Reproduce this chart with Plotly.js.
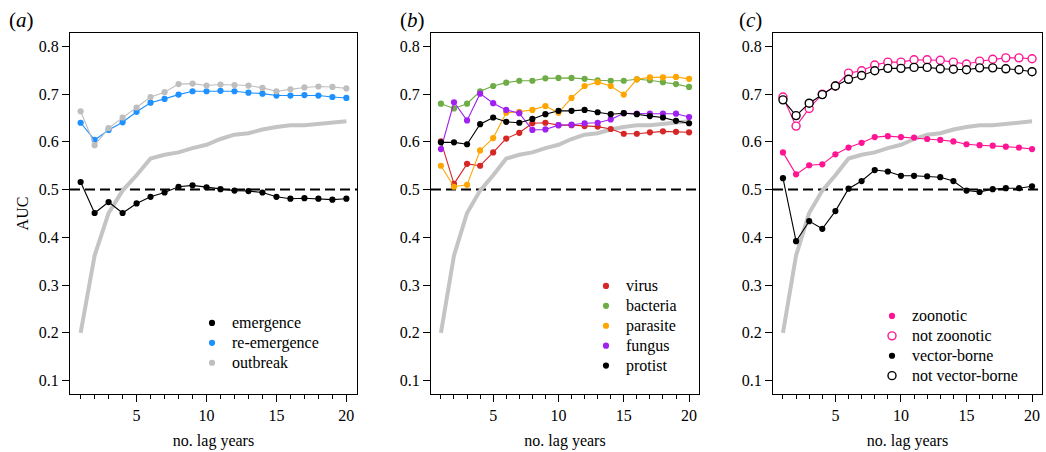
<!DOCTYPE html>
<html>
<head>
<meta charset="utf-8">
<script src="https://cdn.plot.ly/plotly-3.0.1.min.js"></script>
<style>html,body{margin:0;padding:0;background:#fff;}#chart{width:1046px;height:452px;}</style>
</head>
<body>
<div id="chart"></div>
<script>
// ---- data ----
const LAG = [1,2,3,4,5,6,7,8,9,10,11,12,13,14,15,16,17,18,19,20];
const BASELINE = [0.200,0.362,0.451,0.498,0.530,0.565,0.573,0.578,0.587,0.594,0.606,0.615,0.618,0.626,0.631,0.635,0.635,0.638,0.639,0.643];

const EMERGENCE   = [0.516,0.451,0.474,0.451,0.471,0.485,0.494,0.506,0.509,0.505,0.501,0.498,0.497,0.494,0.485,0.481,0.482,0.481,0.479,0.481];
const REEMERGENCE = [0.640,0.604,0.625,0.641,0.663,0.682,0.690,0.699,0.706,0.706,0.707,0.706,0.703,0.701,0.697,0.697,0.698,0.697,0.694,0.692];
const OUTBREAK    = [0.664,0.593,0.629,0.651,0.672,0.694,0.704,0.721,0.722,0.718,0.720,0.719,0.718,0.713,0.706,0.710,0.714,0.716,0.715,0.712];

const VIRUS    = [0.601,0.512,0.554,0.550,0.578,0.607,0.619,0.639,0.640,0.635,0.635,0.633,0.632,0.627,0.617,0.617,0.620,0.622,0.621,0.620];
const BACTERIA = [0.680,0.670,0.680,0.706,0.717,0.724,0.728,0.728,0.733,0.734,0.734,0.732,0.729,0.728,0.728,0.731,0.729,0.725,0.721,0.715];
const PARASITE = [0.550,0.506,0.510,0.582,0.608,0.661,0.663,0.667,0.675,0.661,0.692,0.717,0.725,0.717,0.699,0.731,0.735,0.735,0.736,0.732];
const FUNGUS   = [0.585,0.683,0.645,0.701,0.681,0.667,0.660,0.625,0.626,0.635,0.636,0.639,0.640,0.647,0.660,0.659,0.659,0.659,0.659,0.652];
const PROTIST  = [0.599,0.599,0.595,0.637,0.651,0.642,0.640,0.648,0.658,0.665,0.665,0.667,0.662,0.658,0.660,0.658,0.654,0.651,0.644,0.639];

const ZOONOTIC     = [0.578,0.532,0.551,0.553,0.574,0.588,0.598,0.610,0.612,0.610,0.609,0.606,0.604,0.601,0.595,0.593,0.592,0.590,0.588,0.585];
const NOT_ZOONOTIC = [0.694,0.633,0.670,0.700,0.717,0.744,0.749,0.761,0.767,0.767,0.772,0.772,0.771,0.767,0.763,0.769,0.773,0.776,0.776,0.774];
const VECTOR       = [0.524,0.392,0.434,0.418,0.455,0.502,0.518,0.541,0.538,0.529,0.529,0.528,0.526,0.518,0.498,0.495,0.501,0.503,0.503,0.507];
const NOT_VECTOR   = [0.688,0.655,0.681,0.699,0.717,0.731,0.739,0.749,0.754,0.754,0.756,0.756,0.753,0.752,0.751,0.755,0.755,0.753,0.751,0.747];

const PANEL_LABELS = ['(<i>a</i>)', '(<i>b</i>)', '(<i>c</i>)'];
const X_TITLE = 'no. lag years';
const Y_TITLE = 'AUC';

// ---- styling / layout ----
const W = 1046, H = 452;
const FONT = '"Liberation Serif", "Times New Roman", Times, serif';
const px = v => v / W;
const py = v => 1 - v / H;

const panels = [
  { ax: '',  dom: [70, 357],  legend: 'legend',  series: [
      { name: 'emergence',    y: EMERGENCE,   color: '#000000' },
      { name: 're-emergence', y: REEMERGENCE, color: '#1E90FF' },
      { name: 'outbreak',     y: OUTBREAK,    color: '#BEBEBE' } ] },
  { ax: '2', dom: [431, 699], legend: 'legend2', series: [
      { name: 'virus',    y: VIRUS,    color: '#D62728' },
      { name: 'bacteria', y: BACTERIA, color: '#6FAC46' },
      { name: 'parasite', y: PARASITE, color: '#FFA500' },
      { name: 'fungus',   y: FUNGUS,   color: '#A020F0' },
      { name: 'protist',  y: PROTIST,  color: '#000000' } ] },
  { ax: '3', dom: [773, 1042], legend: 'legend3', series: [
      { name: 'zoonotic',         y: ZOONOTIC,     color: '#FF1493', open: false },
      { name: 'not zoonotic',     y: NOT_ZOONOTIC, color: '#FF1493', open: true },
      { name: 'vector-borne',     y: VECTOR,       color: '#000000', open: false },
      { name: 'not vector-borne', y: NOT_VECTOR,   color: '#000000', open: true } ] }
];

const traces = [];
const layout = {
  width: W, height: H,
  margin: { l: 0, r: 0, t: 0, b: 0 },
  paper_bgcolor: '#ffffff', plot_bgcolor: '#ffffff',
  font: { family: FONT, size: 16, color: '#000000' },
  showlegend: true,
  shapes: [], annotations: []
};

const legendPos = [ { x: 192, y: 308 }, { x: 586, y: 271 }, { x: 872, y: 301 } ];
const labelPos = [7, 398, 737];

panels.forEach((p, i) => {
  const xa = 'x' + p.ax, ya = 'y' + p.ax;
  // baseline thick grey line
  traces.push({ x: LAG, y: BASELINE, xaxis: xa, yaxis: ya, mode: 'lines',
    line: { color: '#C4C4C4', width: 4 }, showlegend: false, hoverinfo: 'skip' });
  p.series.forEach(s => {
    traces.push({ x: LAG, y: s.y, xaxis: xa, yaxis: ya, mode: 'lines',
      line: { color: s.color, width: 1.1 }, showlegend: false, hoverinfo: 'skip' });
    traces.push({ x: LAG, y: s.y, xaxis: xa, yaxis: ya, mode: 'markers',
      name: '<span style="font-size:16px">' + s.name + '</span>',
      legend: p.legend,
      marker: s.open
        ? { symbol: 'circle', size: 8, color: '#ffffff', line: { color: s.color, width: 1.4 } }
        : { symbol: 'circle', size: 6.2, color: s.color, line: { width: 0 } } });
  });

  layout['xaxis' + p.ax] = {
    domain: [px(p.dom[0]), px(p.dom[1])], anchor: ya,
    range: [0.24, 20.76], tick0: 0, dtick: 5,
    showline: true, mirror: true, linecolor: '#000', linewidth: 1,
    ticks: 'outside', ticklen: 7, tickwidth: 1, tickcolor: '#000',
    minor: { dtick: 1, tick0: 0, ticks: 'outside', ticklen: 4, tickwidth: 1, tickcolor: '#000' },
    showgrid: false, zeroline: false,
    tickfont: { family: FONT, size: 16, color: '#000' },
    title: { text: X_TITLE, font: { family: FONT, size: 16, color: '#000' }, standoff: 11 }
  };
  layout['yaxis' + p.ax] = {
    domain: [py(394), py(33)], anchor: xa,
    range: [0.072, 0.828], tickvals: [0.1,0.2,0.3,0.4,0.5,0.6,0.7,0.8],
    ticktext: ['0.1','0.2','0.3','0.4','0.5','0.6','0.7','0.8'],
    showline: true, mirror: true, linecolor: '#000', linewidth: 1,
    ticks: 'outside', ticklen: 7, tickwidth: 1, tickcolor: '#000',
    showgrid: false, zeroline: false,
    tickfont: { family: FONT, size: 16, color: '#000' },
    title: i === 0 ? { text: Y_TITLE, font: { family: FONT, size: 16, color: '#000' }, standoff: 6 } : { text: '' }
  };
  layout[p.legend] = {
    x: px(legendPos[i].x), y: py(legendPos[i].y), xanchor: 'left', yanchor: 'top',
    bgcolor: 'rgba(0,0,0,0)', borderwidth: 0,
    font: { family: FONT, size: 13, color: '#000' },
    itemclick: false, itemdoubleclick: false
  };
  layout.shapes.push({ type: 'line', xref: xa + ' domain', yref: ya,
    x0: 0, x1: 1, y0: 0.5, y1: 0.5, layer: 'below',
    line: { color: '#000', width: 2, dash: '10px,5px' } });
  layout.annotations.push({ text: PANEL_LABELS[i], xref: 'paper', yref: 'paper',
    x: px(labelPos[i]), y: py(20), xanchor: 'left', yanchor: 'middle', showarrow: false,
    font: { family: FONT, size: 21, color: '#000' } });
});

Plotly.newPlot('chart', traces, layout, { displayModeBar: false, staticPlot: true });
</script>
</body>
</html>
